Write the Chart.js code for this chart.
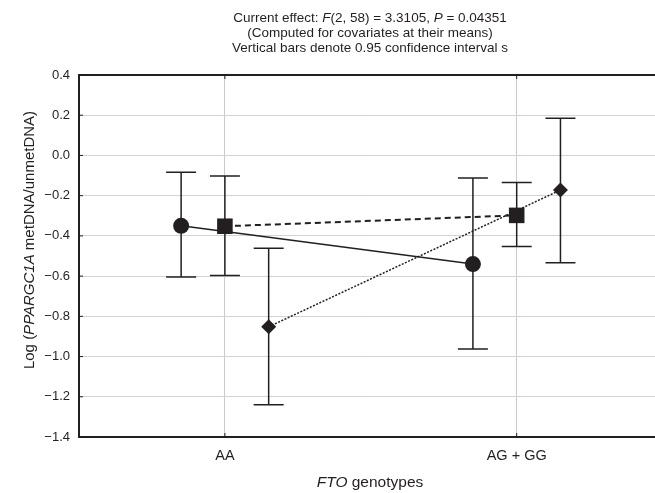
<!DOCTYPE html>
<html>
<head>
<meta charset="utf-8">
<script src="https://cdn.jsdelivr.net/npm/chart.js@4.4.1/dist/chart.umd.min.js"></script>
<style>
    html, body { margin: 0; padding: 0; background: #fff; overflow: hidden; }
    canvas { display: block; }
</style>
</head>
<body>
<canvas id="chart" width="655" height="493"></canvas>
<script>
// ---- data ----
const categories = ['AA', 'AG + GG'];

const circleMean = [-0.350, -0.540];
const circleLow  = [-0.605, -0.962];
const circleHigh = [-0.083, -0.112];

const squareMean = [-0.352, -0.298];
const squareLow  = [-0.597, -0.453];
const squareHigh = [-0.102, -0.134];

const diamondMean = [-0.852, -0.172];
const diamondLow  = [-1.240, -0.533];
const diamondHigh = [-0.462,  0.185];

const yMin = -1.4, yMax = 0.4, yStep = 0.2;

const titleLines = [
    [{ t: 'Current effect: ' }, { t: 'F', i: true }, { t: '(2, 58) = 3.3105, ' }, { t: 'P', i: true }, { t: ' = 0.04351' }],
    [{ t: '(Computed for covariates at their means)' }],
    [{ t: 'Vertical bars denote 0.95 confidence interval s' }]
];
const yTitle = [{ t: 'Log (' }, { t: 'PPARGC1A', i: true }, { t: ' metDNA/unmetDNA)' }];
const xTitle = [{ t: 'FTO', i: true }, { t: ' genotypes' }];

// ---- helpers ----
const INK = '#231f20';
const FONT = "'Liberation Sans', Arial, sans-serif";

function toPoints(values, shift) {
    return values.map((v, i) => ({ x: i + shift, y: v }));
}

function drawRich(ctx, segs, x, y, size) {
    const fontOf = s => (s.i ? 'italic ' : '') + size + 'px ' + FONT;
    let total = 0;
    segs.forEach(s => { ctx.font = fontOf(s); total += ctx.measureText(s.t).width; });
    let cx = x - total / 2;
    segs.forEach(s => {
        ctx.font = fontOf(s);
        ctx.fillText(s.t, cx, y);
        cx += ctx.measureText(s.t).width;
    });
}

// confidence interval whiskers, drawn under the markers
const ciBars = {
    id: 'ciBars',
    beforeDatasetsDraw(chart) {
        const ctx = chart.ctx;
        const ys = chart.scales.y;
        ctx.save();
        ctx.strokeStyle = INK;
        ctx.lineWidth = 1.5;
        chart.data.datasets.forEach((ds, di) => {
            const meta = chart.getDatasetMeta(di);
            meta.data.forEach((pt, i) => {
                const top = ys.getPixelForValue(ds.ciHigh[i]);
                const bot = ys.getPixelForValue(ds.ciLow[i]);
                ctx.beginPath();
                ctx.moveTo(pt.x, top); ctx.lineTo(pt.x, bot);
                ctx.moveTo(pt.x - 15, top); ctx.lineTo(pt.x + 15, top);
                ctx.moveTo(pt.x - 15, bot); ctx.lineTo(pt.x + 15, bot);
                ctx.stroke();
            });
        });
        ctx.restore();
    }
};

// top frame line, small inward ticks, and the titles with italic parts
const frame = {
    id: 'frame',
    afterDraw(chart) {
        const ctx = chart.ctx;
        const a = chart.chartArea;
        const xs = chart.scales.x, ys = chart.scales.y;
        ctx.save();
        ctx.strokeStyle = INK;
        ctx.lineWidth = 2;
        ctx.beginPath();
        ctx.moveTo(a.left - 1, a.top); ctx.lineTo(chart.width, a.top);
        ctx.stroke();

        ctx.lineWidth = 1;
        ctx.beginPath();
        ys.ticks.forEach(t => {
            const y = ys.getPixelForValue(t.value);
            ctx.moveTo(a.left, y); ctx.lineTo(a.left + 4, y);
        });
        xs.ticks.forEach(t => {
            const x = xs.getPixelForValue(t.value);
            ctx.moveTo(x, a.top); ctx.lineTo(x, a.top + 4);
            ctx.moveTo(x, a.bottom); ctx.lineTo(x, a.bottom - 4);
        });
        ctx.stroke();

        ctx.fillStyle = INK;
        ctx.textBaseline = 'middle';
        ctx.textAlign = 'left';
        const cx = 370;
        titleLines.forEach((line, i) => drawRich(ctx, line, cx, 18 + i * 15, 13.5));
        drawRich(ctx, xTitle, cx, 483, 15.5);

        ctx.translate(30, 240);
        ctx.rotate(-Math.PI / 2);
        drawRich(ctx, yTitle, 0, 0, 15);
        ctx.restore();
    }
};

const lineBase = {
    showLine: true,
    borderColor: INK,
    backgroundColor: INK,
    pointBorderColor: INK,
    pointBackgroundColor: INK,
    pointBorderWidth: 0,
};

new Chart(document.getElementById('chart'), {
    type: 'scatter',
    data: {
        datasets: [
            Object.assign({}, lineBase, {
                label: 'circle',
                data: toPoints(circleMean, -0.15),
                ciLow: circleLow, ciHigh: circleHigh,
                borderWidth: 1.5,
                pointStyle: 'circle',
                pointRadius: 8,
            }),
            Object.assign({}, lineBase, {
                label: 'square',
                data: toPoints(squareMean, 0),
                ciLow: squareLow, ciHigh: squareHigh,
                borderWidth: 2,
                borderDash: [6, 4],
                pointStyle: 'rect',
                pointRadius: 11,
            }),
            Object.assign({}, lineBase, {
                label: 'diamond',
                data: toPoints(diamondMean, 0.15),
                ciLow: diamondLow, ciHigh: diamondHigh,
                borderWidth: 1.5,
                borderDash: [2, 1.5],
                pointStyle: 'rectRot',
                pointRadius: 7.5,
            }),
        ]
    },
    options: {
        responsive: false,
        animation: false,
        layout: { autoPadding: false, padding: { top: 75, right: 0, bottom: 0, left: 0 } },
        plugins: {
            legend: { display: false },
            tooltip: { enabled: false },
            title: { display: false }
        },
        scales: {
            x: {
                type: 'linear',
                min: -0.5,
                max: 1.474,
                afterBuildTicks: scale => { scale.ticks = categories.map((c, i) => ({ value: i })); },
                afterFit: scale => {
                    scale.height = 56;
                    scale.paddingLeft = 0;
                    scale.paddingRight = 0;
                },
                border: { display: true, color: INK, width: 2 },
                grid: { color: '#c9c9d6', lineWidth: 1, drawTicks: false },
                ticks: {
                    padding: 10,
                    color: INK,
                    font: { family: FONT, size: 14.5 },
                    maxRotation: 0,
                    callback: v => categories[v]
                }
            },
            y: {
                min: yMin,
                max: yMax,
                afterFit: scale => { scale.width = 79; },
                border: { display: true, color: INK, width: 2 },
                grid: {
                    drawTicks: false,
                    lineWidth: 1,
                    color: c => (c.tick && (c.tick.value >= yMax - 1e-9 || c.tick.value <= yMin + 1e-9)) ? 'rgba(0,0,0,0)' : '#d2d2d8'
                },
                ticks: {
                    stepSize: yStep,
                    padding: 9,
                    color: INK,
                    font: { family: FONT, size: 13 },
                    callback: v => {
                        const s = Math.abs(v).toFixed(1);
                        return v < -1e-9 ? '\u2212' + s : s;
                    }
                }
            }
        }
    },
    plugins: [ciBars, frame]
});
</script>
</body>
</html>
